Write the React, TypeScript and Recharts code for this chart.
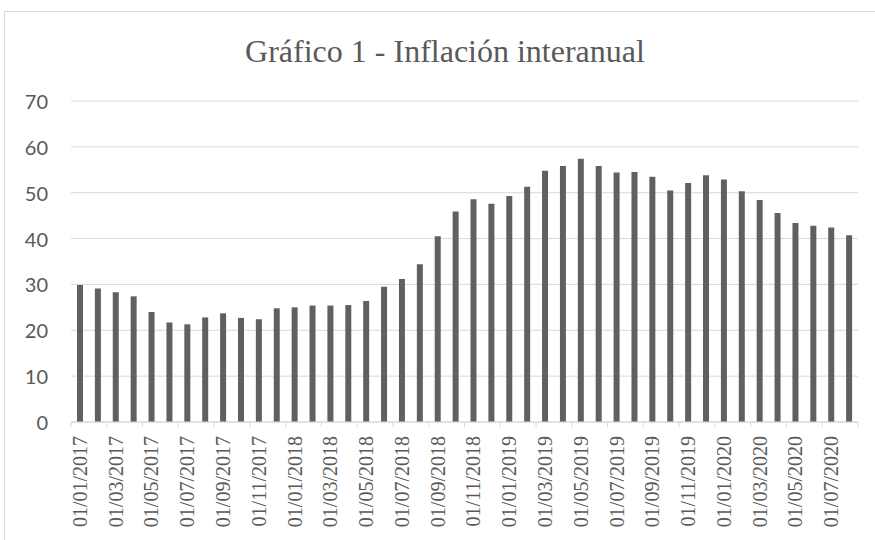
import React from 'react'
import { BarChart, Bar, XAxis, YAxis, CartesianGrid } from 'recharts'

const months = [
  '01/01/2017', '01/02/2017', '01/03/2017', '01/04/2017', '01/05/2017', '01/06/2017',
  '01/07/2017', '01/08/2017', '01/09/2017', '01/10/2017', '01/11/2017', '01/12/2017',
  '01/01/2018', '01/02/2018', '01/03/2018', '01/04/2018', '01/05/2018', '01/06/2018',
  '01/07/2018', '01/08/2018', '01/09/2018', '01/10/2018', '01/11/2018', '01/12/2018',
  '01/01/2019', '01/02/2019', '01/03/2019', '01/04/2019', '01/05/2019', '01/06/2019',
  '01/07/2019', '01/08/2019', '01/09/2019', '01/10/2019', '01/11/2019', '01/12/2019',
  '01/01/2020', '01/02/2020', '01/03/2020', '01/04/2020', '01/05/2020', '01/06/2020',
  '01/07/2020', '01/08/2020',
]

const inflation = [
  29.9, 29.1, 28.3, 27.4, 24.0, 21.7, 21.3, 22.8, 23.7, 22.7, 22.4, 24.8,
  25.0, 25.4, 25.4, 25.5, 26.4, 29.5, 31.2, 34.4, 40.5, 45.9, 48.6, 47.6,
  49.3, 51.3, 54.8, 55.8, 57.4, 55.8, 54.4, 54.5, 53.5, 50.5, 52.1, 53.8,
  52.9, 50.3, 48.4, 45.6, 43.4, 42.8, 42.4, 40.7,
]

const yTicks = [0, 10, 20, 30, 40, 50, 60, 70]

const data = months.map((m, i) => ({ month: m, value: inflation[i] }))

const W = 875
const H = 540
const LEFT = 71
const RIGHT = 17
const STEP = (W - LEFT - RIGHT) / months.length
const GRID = '#d9d9d9'
const TEXT = '#595959'
const SERIF = "'Liberation Serif', 'Times New Roman', serif"

function MonthTick(props: any) {
  const { x, y, index } = props
  const last = index === months.length - 1
  if (index % 2 === 1 && !last) return null
  return (
    <g>
      {index % 2 === 0 && (
        <line x1={x - STEP / 2} x2={x - STEP / 2} y1={y} y2={y + 5} stroke={GRID} />
      )}
      {last && <line x1={x + STEP / 2} x2={x + STEP / 2} y1={y} y2={y + 5} stroke={GRID} />}
      {index % 2 === 0 && (
        <text
          x={x}
          y={y + 14}
          transform={`rotate(-90, ${x}, ${y + 14})`}
          textAnchor="end"
          dominantBaseline="central"
          style={{ fontFamily: SERIF, fontSize: 20, fill: TEXT }}
        >
          {months[index]}
        </text>
      )}
    </g>
  )
}

function ValueTick(props: any) {
  const { y, payload } = props
  return (
    <text
      x={48}
      y={y}
      textAnchor="end"
      dominantBaseline="central"
      style={{ fontFamily: 'Lato, sans-serif', fontSize: 20, fill: TEXT }}
    >
      {payload.value}
    </text>
  )
}

export default function App() {
  return (
    <div style={{ position: 'absolute', left: 0, top: 0, width: W, height: H, background: '#fff' }}>
      <div
        style={{
          position: 'absolute',
          left: 4,
          top: 11,
          right: 0,
          bottom: 0,
          borderTop: `1px solid ${GRID}`,
          borderLeft: `1px solid ${GRID}`,
        }}
      />
      <div
        style={{
          position: 'absolute',
          left: 0,
          top: 35,
          width: 890,
          textAlign: 'center',
          fontFamily: SERIF,
          fontSize: 32,
          lineHeight: '32px',
          color: TEXT,
        }}
      >
        Gráfico 1 - Inflación interanual
      </div>
      <div style={{ position: 'absolute', left: 0, top: 0 }}>
        <BarChart
          width={W}
          height={H}
          data={data}
          margin={{ top: 101, right: RIGHT, bottom: 0, left: 0 }}
          barCategoryGap={0}
        >
          <CartesianGrid vertical={false} stroke={GRID} />
          <XAxis
            dataKey="month"
            interval={0}
            height={118}
            axisLine={{ stroke: GRID }}
            tickLine={false}
            tickSize={0}
            tickMargin={0}
            tick={<MonthTick />}
          />
          <YAxis
            width={LEFT}
            domain={[0, 70]}
            ticks={yTicks}
            axisLine={false}
            tickLine={false}
            tick={<ValueTick />}
          />
          <Bar dataKey="value" fill="#606060" barSize={6} isAnimationActive={false} />
        </BarChart>
      </div>
    </div>
  )
}
